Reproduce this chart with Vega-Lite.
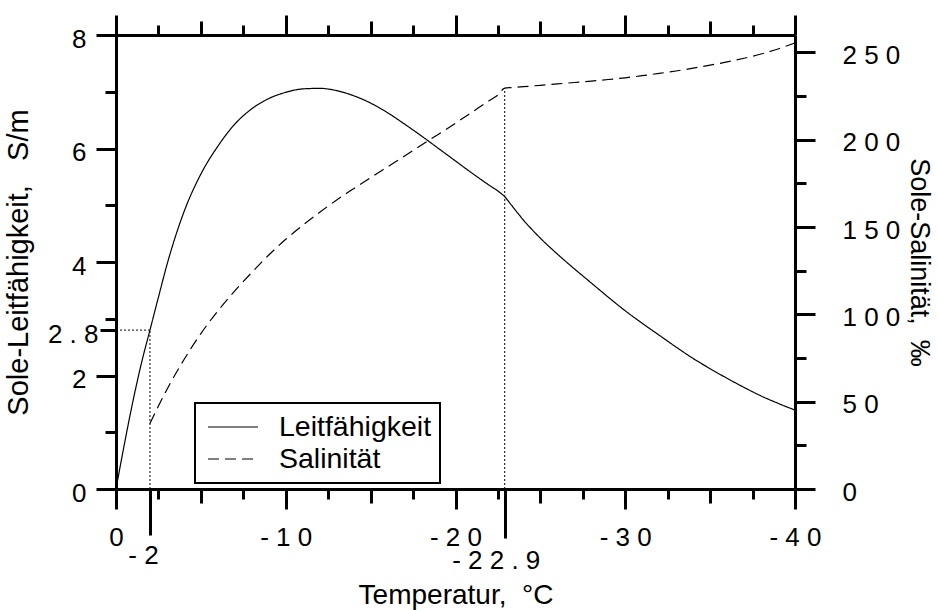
{
  "$schema": "https://vega.github.io/schema/vega-lite/v6.json",
  "width": 679,
  "height": 454,
  "autosize": {"type": "none"},
  "padding": {"left": 116, "top": 35, "right": 143, "bottom": 121},
  "background": "white",
  "config": {
    "view": {"stroke": null},
    "font": "Liberation Sans",
    "axis": {
      "grid": false,
      "domainColor": "black",
      "domainWidth": 3,
      "tickColor": "black",
      "tickWidth": 3,
      "labelFont": "Liberation Sans",
      "labelFontSize": 26,
      "labelColor": "black",
      "labelOverlap": false,
      "labelFlush": false,
      "labelBound": false,
      "titleFont": "Liberation Sans",
      "titleFontWeight": "normal",
      "titleColor": "black"
    },
    "legend": {
      "strokeColor": "black",
      "strokeWidth": 2,
      "fillColor": "white",
      "padding": 8,
      "cornerRadius": 0
    }
  },
  "datasets": {
    "leit": [
      {"t": 0, "v": 0}, {"t": -0.5, "v": 0.8}, {"t": -1, "v": 1.55}, {"t": -1.5, "v": 2.22},
      {"t": -2, "v": 2.8}, {"t": -2.5, "v": 3.38}, {"t": -3, "v": 3.95}, {"t": -4, "v": 4.88},
      {"t": -5, "v": 5.55}, {"t": -6, "v": 6.04}, {"t": -7, "v": 6.43}, {"t": -8, "v": 6.70},
      {"t": -9, "v": 6.88}, {"t": -10, "v": 6.99}, {"t": -11, "v": 7.05}, {"t": -12, "v": 7.06},
      {"t": -13, "v": 7.02}, {"t": -14, "v": 6.93}, {"t": -15, "v": 6.80}, {"t": -16, "v": 6.63},
      {"t": -17, "v": 6.43}, {"t": -18, "v": 6.22}, {"t": -19, "v": 6.00}, {"t": -20, "v": 5.78},
      {"t": -21, "v": 5.56}, {"t": -22, "v": 5.35}, {"t": -22.5, "v": 5.25}, {"t": -22.9, "v": 5.15},
      {"t": -23.3, "v": 5.00}, {"t": -24, "v": 4.74}, {"t": -25, "v": 4.42}, {"t": -26, "v": 4.14},
      {"t": -27, "v": 3.88}, {"t": -28, "v": 3.63}, {"t": -29, "v": 3.38}, {"t": -30, "v": 3.14},
      {"t": -31, "v": 2.92}, {"t": -32, "v": 2.71}, {"t": -33, "v": 2.50}, {"t": -34, "v": 2.30},
      {"t": -35, "v": 2.12}, {"t": -36, "v": 1.95}, {"t": -37, "v": 1.79}, {"t": -38, "v": 1.64},
      {"t": -39, "v": 1.51}, {"t": -40, "v": 1.39}
    ],
    "sal": [
      {"t": -2, "v": 37.5}, {"t": -2.5, "v": 47.5}, {"t": -3, "v": 57}, {"t": -4, "v": 74},
      {"t": -5, "v": 89}, {"t": -6, "v": 102}, {"t": -7, "v": 113.5}, {"t": -8, "v": 124},
      {"t": -9, "v": 134}, {"t": -10, "v": 143}, {"t": -11, "v": 151}, {"t": -12, "v": 158.5},
      {"t": -13, "v": 165.5}, {"t": -14, "v": 172}, {"t": -15, "v": 178.3}, {"t": -16, "v": 184.5},
      {"t": -17, "v": 190.7}, {"t": -18, "v": 197}, {"t": -19, "v": 203.2}, {"t": -20, "v": 209.5},
      {"t": -21, "v": 216}, {"t": -22, "v": 222.5}, {"t": -22.5, "v": 225.6}, {"t": -22.9, "v": 229.6},
      {"t": -23.3, "v": 229.9}, {"t": -24, "v": 230.4}, {"t": -25, "v": 231.2}, {"t": -26, "v": 232},
      {"t": -27, "v": 232.8}, {"t": -28, "v": 233.6}, {"t": -29, "v": 234.5}, {"t": -30, "v": 235.5},
      {"t": -31, "v": 236.7}, {"t": -32, "v": 238}, {"t": -33, "v": 239.4}, {"t": -34, "v": 241},
      {"t": -35, "v": 242.7}, {"t": -36, "v": 244.6}, {"t": -37, "v": 246.7}, {"t": -38, "v": 249.1},
      {"t": -39, "v": 252}, {"t": -40, "v": 255.5}
    ],
    "refLeit": [
      {"t": 0, "t2": -2, "v": 2.8, "v2": 2.8},
      {"t": -2, "t2": -2, "v": 0, "v2": 2.8}
    ],
    "refSal": [
      {"t": -22.9, "t2": -22.9, "v": 0, "v2": 229.6}
    ]
  },
  "layer": [
    {
      "data": {"name": "refLeit"},
      "mark": {"type": "rule", "color": "black", "strokeWidth": 1, "strokeDash": [2, 2]},
      "encoding": {
        "x": {"field": "t", "type": "quantitative", "scale": {"domain": [0, -40], "nice": false, "zero": false}, "axis": null},
        "x2": {"field": "t2"},
        "y": {"field": "v", "type": "quantitative", "scale": {"domain": [0, 8], "nice": false}, "axis": null},
        "y2": {"field": "v2"}
      }
    },
    {
      "data": {"name": "refSal"},
      "mark": {"type": "rule", "color": "black", "strokeWidth": 1, "strokeDash": [2, 2]},
      "encoding": {
        "x": {"field": "t", "type": "quantitative", "scale": {"domain": [0, -40], "nice": false, "zero": false}, "axis": null},
        "x2": {"field": "t2"},
        "y": {"field": "v", "type": "quantitative", "scale": {"domain": [0, 260], "nice": false}, "axis": null},
        "y2": {"field": "v2"}
      }
    },
    {
      "data": {"name": "leit"},
      "mark": {"type": "line", "color": "black", "strokeWidth": 1.2, "interpolate": "monotone"},
      "encoding": {
        "x": {
          "field": "t", "type": "quantitative",
          "scale": {"domain": [0, -40], "nice": false, "zero": false},
          "axis": {
            "orient": "bottom",
            "values": [0, -2, -2.5, -5, -7.5, -10, -12.5, -15, -17.5, -20, -22.5, -22.9, -25, -27.5, -30, -32.5, -35, -37.5, -40],
            "tickSize": {"expr": "datum.value == -2 ? 46 : datum.value == -22.9 ? 49 : datum.value % 10 == 0 ? 20 : datum.value % 5 == 0 ? 14 : 10"},
            "labelExpr": "datum.value == 0 ? '0' : datum.value == -2 ? '- 2' : datum.value == -22.9 ? '- 2 2 . 9' : datum.value == -10 ? '- 1 0' : datum.value == -20 ? '- 2 0' : datum.value == -30 ? '- 3 0' : datum.value == -40 ? '- 4 0' : ''",
            "labelPadding": {"expr": "datum.value == -2 ? 7 : datum.value == -22.9 ? 9 : 15"},
            "labelOffset": {"expr": "datum.value == -2 ? -7 : datum.value == -22.9 ? -9 : 0"},
            "title": "Temperatur,\u00a0\u00a0°C",
            "titleFontSize": 28,
            "titlePadding": 8
          }
        },
        "y": {
          "field": "v", "type": "quantitative",
          "scale": {"domain": [0, 8], "nice": false},
          "axis": {
            "orient": "left",
            "values": [0, 1, 2, 2.8, 3, 4, 5, 6, 7, 8],
            "tickSize": {"expr": "datum.value == 2.8 ? 16 : datum.value % 2 == 0 ? 20 : 11"},
            "labelExpr": "datum.value == 2.8 ? '2 . 8' : datum.value % 2 == 0 ? datum.label : ''",
            "labelPadding": {"expr": "datum.value == 2.8 ? 2 : 10"},
            "labelOffset": 4,
            "title": "Sole-Leitfähigkeit,\u00a0\u00a0\u00a0S/m",
            "titleFontSize": 29,
            "titlePadding": 14
          }
        },
        "strokeDash": {
          "datum": "Leitfähigkeit", "type": "nominal",
          "scale": {"domain": ["Leitfähigkeit", "Salinität"], "range": [[1, 0], [11, 6]]},
          "legend": {
            "title": null, "orient": "none", "legendX": 79, "legendY": 368, "direction": "vertical",
            "symbolType": "stroke", "symbolSize": 2500, "symbolStrokeWidth": 1.2, "symbolStrokeColor": "black",
            "symbolOffset": 4,
            "labelFont": "Liberation Sans", "labelFontSize": 28.5, "labelColor": "black", "labelOffset": 20, "labelLimit": 400,
            "clipHeight": 32, "rowPadding": 0
          }
        }
      }
    },
    {
      "data": {"name": "sal"},
      "mark": {"type": "line", "color": "black", "strokeWidth": 1.2, "interpolate": "monotone"},
      "encoding": {
        "x": {
          "field": "t", "type": "quantitative",
          "scale": {"domain": [0, -40], "nice": false, "zero": false},
          "axis": {
            "orient": "top",
            "values": [0, -2.5, -5, -7.5, -10, -12.5, -15, -17.5, -20, -22.5, -25, -27.5, -30, -32.5, -35, -37.5, -40],
            "tickSize": {"expr": "datum.value % 10 == 0 ? 20 : datum.value % 5 == 0 ? 14 : 10"},
            "labels": false,
            "title": null
          }
        },
        "y": {
          "field": "v", "type": "quantitative",
          "scale": {"domain": [0, 260], "nice": false},
          "axis": {
            "orient": "right",
            "values": [0, 25, 50, 75, 100, 125, 150, 175, 200, 225, 250],
            "tickSize": {"expr": "datum.value % 50 == 0 ? 20 : 11"},
            "labelExpr": "datum.value == 0 ? '0' : datum.value == 50 ? '5 0' : datum.value == 100 ? '1 0 0' : datum.value == 150 ? '1 5 0' : datum.value == 200 ? '2 0 0' : datum.value == 250 ? '2 5 0' : ''",
            "labelPadding": 27,
            "labelOffset": 3,
            "title": "Sole-Salinität,\u00a0\u00a0‰",
            "titleFontSize": 27,
            "titlePadding": 5
          }
        },
        "strokeDash": {
          "datum": "Salinität", "type": "nominal",
          "scale": {"domain": ["Leitfähigkeit", "Salinität"], "range": [[1, 0], [11, 6]]}
        }
      }
    }
  ],
  "resolve": {
    "scale": {"y": "independent"},
    "axis": {"x": "independent", "y": "independent"}
  }
}
